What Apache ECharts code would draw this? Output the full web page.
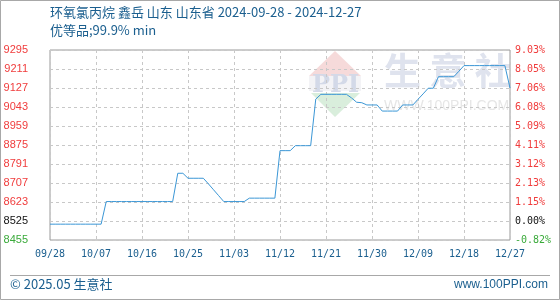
<!DOCTYPE html>
<html>
<head>
<meta charset="utf-8">
<script src="https://cdn.jsdelivr.net/npm/echarts@6/dist/echarts.min.js"></script>
<style>
html,body{margin:0;padding:0;background:#fff;}
#c{width:560px;height:300px;}
</style>
</head>
<body>
<div id="c"></div>
<script>
// ---- data ----
const titleLine1 = '环氧氯丙烷 鑫岳 山东 山东省 2024-09-28 - 2024-12-27';
const titleLine2 = '优等品;99.9% min';
const startDate = '2024-09-28';
const dayCount = 91;
const xTickLabels = ['09/28','10/07','10/16','10/25','11/03','11/12','11/21','11/30','12/09','12/18','12/27'];
const prices = [
  8525,8525,8525,8525,8525,8525,8525,8525,8525,8525,8525,
  8625,8625,8625,8625,8625,8625,8625,8625,8625,8625,8625,8625,8625,8625,
  8750,8750,8728,8728,8728,8728,8703,8677,8651,8625,8625,8625,8625,8625,
  8640,8640,8640,8640,8640,8640,
  8850,8850,8850,8872,8872,8872,8872,
  9078,9099,9099,9099,9099,9099,9099,
  9083,9064,9062,9052,9052,9052,9025,9025,9025,9025,
  9052,9052,9052,9077,9101,9126,9126,
  9177,9177,9177,9177,9201,9226,
  9226,9226,9226,9226,9226,9226,9226,9226,9127
];
const leftLabels = ['8455','8525','8623','8707','8791','8875','8959','9043','9127','9211','9295'];
const rightLabels = ['-0.82%','0.00%','1.15%','2.13%','3.12%','4.11%','5.09%','6.08%','7.06%','8.05%','9.03%'];
const axisMin = 8455;
const axisMax = 9295;
const axisStep = 84;

// ---- build ----
const categories = [];
{
  const d0 = new Date(startDate + 'T00:00:00Z');
  for (let i = 0; i < dayCount; i++) {
    const d = new Date(d0.getTime() + i * 86400000);
    const mm = String(d.getUTCMonth() + 1).padStart(2, '0');
    const dd = String(d.getUTCDate()).padStart(2, '0');
    categories.push(mm + '/' + dd);
  }
}
const seriesData = prices.map(v => v - axisMin);

function styleKey(i){ return i === 0 ? 'g' : (i === 1 ? 'k' : 'r'); }

const chart = echarts.init(document.getElementById('c'), null, {renderer:'canvas'});
const blue = '#1b5f8f';
chart.setOption({
  animation: false,
  backgroundColor: '#fff',
  grid: {left: 50, right: 50, top: 50, bottom: 60, show: true, borderColor: '#9a9a9a', borderWidth: 1},
  xAxis: {
    type: 'category', boundaryGap: false, data: categories,
    axisLine: {show: false}, axisTick: {show: false},
    axisLabel: {interval: 8, color: blue, fontFamily: 'DejaVu Sans Mono', fontSize: 10, margin: 9},
    splitLine: {show: true, interval: 8, lineStyle: {color: '#c8c8c8', type: [3,3], width: 1}}
  },
  yAxis: [{
    type: 'value', min: 0, max: axisMax - axisMin, interval: axisStep,
    axisLine: {show: false}, axisTick: {show: false},
    splitLine: {show: true, lineStyle: {color: '#c8c8c8', type: [3,3], width: 1}},
    axisLabel: {
      margin: 22, align: 'right',
      formatter: function(v){ const i = Math.round(v / axisStep); return '{' + styleKey(i) + '|' + leftLabels[i] + '}'; },
      rich: {
        r: {color: '#f03c3c', fontFamily: 'Liberation Sans', fontSize: 11},
        k: {color: '#111', fontFamily: 'Liberation Sans', fontSize: 11},
        g: {color: '#3aaa3a', fontFamily: 'Liberation Sans', fontSize: 11}
      }
    }
  },{
    type: 'value', min: 0, max: axisMax - axisMin, interval: axisStep, position: 'right',
    axisLine: {show: false}, axisTick: {show: false}, splitLine: {show: false},
    axisLabel: {
      margin: 5, align: 'left',
      formatter: function(v){ const i = Math.round(v / axisStep); return '{' + styleKey(i) + '|' + rightLabels[i] + '}'; },
      rich: {
        r: {color: '#f03c3c', fontFamily: 'DejaVu Sans Mono', fontSize: 10},
        k: {color: '#111', fontFamily: 'DejaVu Sans Mono', fontSize: 10},
        g: {color: '#3aaa3a', fontFamily: 'DejaVu Sans Mono', fontSize: 10}
      }
    }
  }],
  series: [{
    type: 'line', data: seriesData, yAxisIndex: 0, showSymbol: false, symbol: 'none',
    lineStyle: {color: '#3b97d6', width: 1}, z: 5
  }],
  graphic: [
    {type: 'rect', z: -10, shape: {x: 0.5, y: 0.5, width: 559, height: 299}, style: {fill: null, stroke: '#a8a8a8', lineWidth: 1}},
    // watermark
    {type: 'polygon', z: -5, shape: {points: [[335,51],[309,76],[361,76]]}, style: {fill: '#f6dada'}},
    {type: 'rect', z: -5, shape: {x: 309, y: 76, width: 52, height: 15}, style: {fill: '#f3f3f6'}},
    {type: 'text', z: -4, left: 312, top: 74, style: {text: 'PPI', fill: '#d3d9e8', font: 'bold 24px "DejaVu Serif"'}},
    {type: 'polygon', z: -5, shape: {points: [[311,93],[360,93],[335,117]]}, style: {fill: '#d9eedc'}},
    {type: 'text', z: -5, left: 384, top: 52, style: {text: '生 意 社', fill: '#dfe3ee', font: 'bold 37px "Noto Sans CJK SC"'}},
    {type: 'text', z: -5, left: 384, top: 99, style: {text: 'WWW.100PPI.COM', fill: '#e6e6e6', font: '14px "Liberation Sans"'}},
    // titles
    {type: 'text', left: 50, top: 6, style: {text: titleLine1, fill: blue, font: '13px "Noto Sans CJK SC"'}},
    {type: 'text', left: 50, top: 24, style: {text: titleLine2, fill: blue, font: '13px "Noto Sans CJK SC"'}},
    // footer
    {type: 'line', shape: {x1: 10, y1: 275.5, x2: 550, y2: 275.5}, style: {stroke: '#a8a8a8', lineWidth: 1}},
    {type: 'text', left: 10, top: 278, style: {text: '© 2025.05 生意社', fill: blue, font: '13px "Noto Sans CJK SC"'}},
    {type: 'text', right: 12, top: 279, style: {text: 'www.100PPI.com', fill: blue, font: '12px "Liberation Sans"'}}
  ]
});
</script>
</body>
</html>
